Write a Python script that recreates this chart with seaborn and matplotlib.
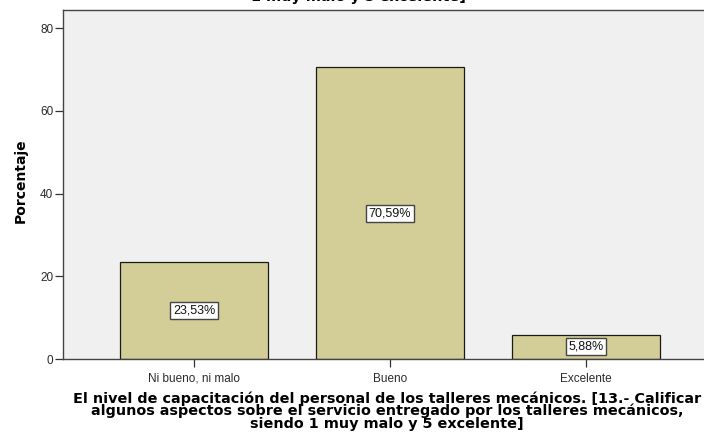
import matplotlib
matplotlib.use("Agg")
import matplotlib.pyplot as plt
import seaborn as sns
import pandas as pd

# Respuestas y porcentajes
categorias = ["Ni bueno, ni malo", "Bueno", "Excelente"]
porcentajes = [23.53, 70.59, 5.88]
etiquetas = ["23,53%", "70,59%", "5,88%"]
yticks = [0, 20, 40, 60, 80]

titulo_x = ("El nivel de capacitación del personal de los talleres mecánicos. [13.- Calificar\n"
            "algunos aspectos sobre el servicio entregado por los talleres mecánicos,\n"
            "siendo 1 muy malo y 5 excelente]")
titulo_sup = "1 muy malo y 5 excelente]"

sns.set_theme(style="white")
plt.rcParams["font.family"] = ["Liberation Sans", "DejaVu Sans"]

df = pd.DataFrame({"categoria": categorias, "porcentaje": porcentajes})

W, H = 704, 434
fig = plt.figure(figsize=(W / 100, H / 100), dpi=100)
fig.patch.set_facecolor("white")
ax = fig.add_axes([63 / W, (H - 359) / H, (717 - 63) / W, (359 - 9.5) / H])
ax.set_facecolor("#F0F0F0")

sns.barplot(data=df, x="categoria", y="porcentaje", ax=ax, color="#D3CE97",
            saturation=1, width=0.755, edgecolor="#1a1a1a", linewidth=0.9)

ax.set_xlim(-0.668, 2.668)
ax.set_ylim(0, 84.5)
ax.set_yticks(yticks)
ax.set_yticklabels([str(t) for t in yticks], fontsize=8.5, color="#2a2a2a")
ax.set_xticks(range(len(categorias)))
ax.set_xticklabels(categorias, fontsize=8.5, color="#2a2a2a")
ax.tick_params(axis="both", which="major", length=6, width=0.9, color="#333333",
               direction="out", bottom=True, left=True)
ax.tick_params(axis="x", pad=4)
ax.tick_params(axis="y", pad=1)
for s in ax.spines.values():
    s.set_color("#444444")
    s.set_linewidth(1.0)

for i, (v, lab) in enumerate(zip(porcentajes, etiquetas)):
    ax.text(i, v / 2, lab, ha="center", va="center", fontsize=9, color="#111111",
            bbox=dict(boxstyle="square,pad=0.2", facecolor="white",
                      edgecolor="#444444", linewidth=1.0))

ax.set_xlabel("")
ax.set_ylabel("Porcentaje", fontsize=10, fontweight="bold", color="black",
              family="DejaVu Sans")
ax.yaxis.set_label_coords(-0.054, 0.51)

fig.text(387 / W, (H - 391) / H, titulo_x, ha="center", va="top",
         multialignment="center", fontsize=10.4, fontweight="bold",
         linespacing=0.86, family="DejaVu Sans", color="black")
fig.text(358 / W, (H - 0.5) / H, titulo_sup, ha="center", va="baseline",
         fontsize=10.4, fontweight="bold", family="DejaVu Sans", color="black")

fig.savefig("out.png", dpi=100)
